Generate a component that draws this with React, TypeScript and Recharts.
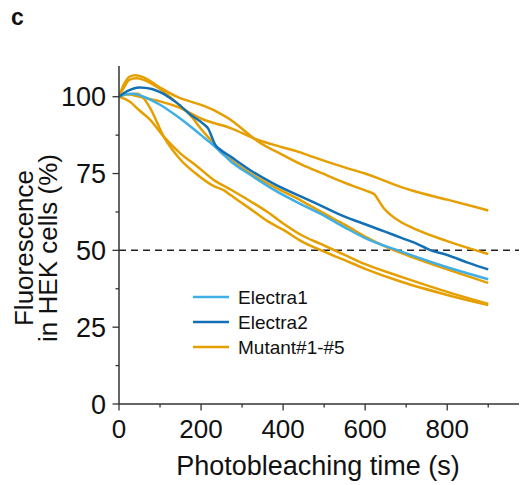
import React from "react";
import { LineChart, Line, XAxis, YAxis, ReferenceLine } from "recharts";

// [time (s), fluorescence (%)]
const electra1: [number, number][] = [
  [0, 100], [15, 100.8], [35, 101], [60, 100], [100, 97.4], [140, 93.8], [182, 89.5], [200, 87.5],
  [223, 85], [248, 82], [272, 79], [321, 74.5], [380, 69.5], [444, 65], [493, 61.8], [550, 57.5],
  [600, 54], [690, 49.5], [800, 44.5], [900, 40.6],
];

const electra2: [number, number][] = [
  [0, 100], [20, 101.8], [50, 103], [80, 102.5], [100, 101.5], [141, 98], [176, 94], [207, 91],
  [218, 89.5], [226, 87], [234, 84.5], [245, 83], [272, 80.5], [321, 76], [380, 71.5], [444, 67.5],
  [493, 64.5], [550, 61], [600, 58.5], [650, 56], [690, 54], [720, 52.5], [760, 50], [800, 48.5],
  [850, 46], [900, 43.8],
];

const mutant1: [number, number][] = [
  [0, 100], [20, 100.8], [50, 100], [100, 98.5], [141, 96.8], [207, 92.5], [272, 89.8], [338, 86],
  [400, 83.5], [444, 81.8], [469, 80.6], [550, 77], [600, 75], [690, 70.5], [714, 69.5], [800, 66.5],
  [900, 63],
];

const mutant2: [number, number][] = [
  [0, 100], [12, 104], [25, 106.5], [40, 107], [60, 106.3], [100, 103], [141, 100], [207, 97],
  [240, 95], [272, 92.5], [305, 89], [338, 85.5], [400, 81], [444, 78], [493, 75.2], [550, 72],
  [600, 69.5], [623, 68.2], [630, 66.8], [645, 63.8], [660, 61.8], [690, 59], [714, 57.4], [800, 53],
  [900, 48.8],
];

const mutant3: [number, number][] = [
  [0, 100], [12, 103], [25, 105.5], [42, 106], [60, 105.5], [100, 102.5], [141, 98], [180, 93],
  [200, 89.5], [223, 86], [248, 82], [272, 79.5], [321, 75], [380, 70.5], [444, 66.2], [493, 62.5],
  [530, 59.8], [550, 58.4], [600, 54.5], [690, 49], [714, 47.8], [800, 43.8], [900, 39.4],
];

const mutant4: [number, number][] = [
  [0, 100], [25, 98.5], [50, 95.5], [76, 92.5], [109, 87], [150, 81.5], [190, 77.4], [230, 73],
  [272, 69.8], [320, 66], [362, 62.5], [403, 58.5], [444, 55], [493, 52], [550, 48.5], [600, 45.5],
  [690, 41.3], [800, 36.5], [900, 32.6],
];

const mutant5: [number, number][] = [
  [0, 100], [20, 100.8], [45, 101], [60, 99.5], [76, 96.3], [109, 87], [150, 79.5], [190, 74.7],
  [230, 71], [256, 69.5], [272, 68], [320, 63.5], [362, 59.5], [403, 56.5], [444, 53], [493, 50],
  [550, 46.8], [600, 44], [690, 39.7], [800, 35.5], [900, 32.2],
];

const mutants = [mutant1, mutant2, mutant3, mutant4, mutant5];

const xTicks = [0, 100, 200, 300, 400, 500, 600, 700, 800, 900];
const yTicks = [0, 12.5, 25, 37.5, 50, 62.5, 75, 87.5, 100];
const legendLabels = ["Electra1", "Electra2", "Mutant#1-#5"];

const LIGHT = "#3FAFE6";
const DARK = "#1370B5";
const ORANGE = "#E69F00";
const AXIS = "#333333";
const FONT = '"Liberation Sans", Arial, sans-serif';

const toRows = (s: [number, number][]) => s.map(([t, v]) => ({ t, v }));

const XTick = ({ x, y, payload }: any) => {
  const major = payload.value % 200 === 0;
  return (
    <g>
      <line x1={x} x2={x} y1={y} y2={y + (major ? 6.5 : 3.5)} stroke={AXIS} strokeWidth={1.3} />
      {major && (
        <text x={x} y={y + 34} textAnchor="middle" fontSize={26} fill="#111" fontFamily={FONT}>
          {payload.value}
        </text>
      )}
    </g>
  );
};

const YTick = ({ x, y, payload }: any) => {
  const major = payload.value % 25 === 0;
  return (
    <g>
      <line x1={x - (major ? 6.5 : 3.5)} x2={x} y1={y} y2={y} stroke={AXIS} strokeWidth={1.3} />
      {major && (
        <text x={x - 13} y={y + 9.5} textAnchor="end" fontSize={27} fill="#111" fontFamily={FONT}>
          {payload.value}
        </text>
      )}
    </g>
  );
};

const legendColors = [LIGHT, DARK, ORANGE];

export default function App() {
  return (
    <div style={{ position: "absolute", left: 0, top: 0, width: 520, height: 485, background: "#fff" }}>
      <LineChart width={520} height={485} margin={{ top: 66, right: 1, left: 0, bottom: 31 }}>
        <XAxis
          dataKey="t"
          type="number"
          domain={[0, 975]}
          ticks={xTicks}
          tick={<XTick />}
          tickLine={false}
          tickSize={0}
          tickMargin={0}
          height={50}
          axisLine={{ stroke: AXIS, strokeWidth: 1.5 }}
          allowDataOverflow
        />
        <YAxis
          type="number"
          domain={[0, 110]}
          ticks={yTicks}
          tick={<YTick />}
          tickLine={false}
          tickSize={0}
          tickMargin={0}
          width={119}
          axisLine={{ stroke: AXIS, strokeWidth: 1.5 }}
          interval={0}
        />
        <ReferenceLine y={50} stroke="#222" strokeWidth={1.5} strokeDasharray="7 5" />
        {mutants.map((m, i) => (
          <Line
            key={i}
            data={toRows(m)}
            dataKey="v"
            type="monotone"
            stroke={ORANGE}
            strokeWidth={2.5}
            dot={false}
            isAnimationActive={false}
          />
        ))}
        <Line data={toRows(electra1)} dataKey="v" type="monotone" stroke={LIGHT} strokeWidth={2.5} dot={false} isAnimationActive={false} />
        <Line data={toRows(electra2)} dataKey="v" type="monotone" stroke={DARK} strokeWidth={2.5} dot={false} isAnimationActive={false} />
        <g>
          {legendLabels.map((label, i) => (
            <g key={label}>
              <line x1={193} x2={229} y1={297 + i * 25} y2={297 + i * 25} stroke={legendColors[i]} strokeWidth={2.5} />
              <text x={238} y={304 + i * 25} fontSize={19} fill="#111" fontFamily={FONT}>
                {label}
              </text>
            </g>
          ))}
        </g>
        <text x={11} y={25} fontSize={23} fontWeight="bold" fill="#111" fontFamily={FONT}>
          c
        </text>
        <text transform="translate(33,248) rotate(-90)" textAnchor="middle" fontSize={26} fill="#111" fontFamily={FONT}>
          Fluorescence
        </text>
        <text transform="translate(57,248) rotate(-90)" textAnchor="middle" fontSize={26} fill="#111" fontFamily={FONT}>
          in HEK cells (%)
        </text>
        <text x={318} y={475} textAnchor="middle" fontSize={27} fill="#111" fontFamily={FONT}>
          Photobleaching time (s)
        </text>
      </LineChart>
    </div>
  );
}
